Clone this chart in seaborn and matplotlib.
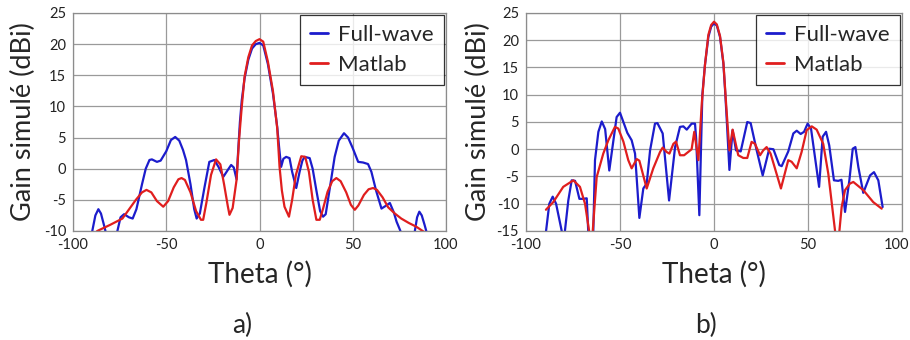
import pandas as pd
import matplotlib.pyplot as plt
import matplotlib.transforms as mtransforms
import seaborn as sns

# --- a) values
theta_a_fw = [-90, -88, -86.4, -85, -83, -82, -79, -76.2, -74.5, -72.6, -70, -68, -66, -63, -61, -59,
              -57.7, -55, -53, -50, -47.5, -45.2, -43, -41, -39.4, -37, -35, -33.7, -32, -29.5, -26.9,
              -24.2, -22, -19.4, -17, -15.2, -13.8, -12.3, -11.5, -10.5, -9.5, -8, -6, -4, -2, 0, 2,
              4.5, 7.2, 9.5, 10.5, 11.6, 12.8, 14.3, 16.1, 17.5, 19.7, 21.5, 23, 24.2, 26.9, 28.5,
              30.5, 32.5, 34.1, 35.5, 37.5, 40.3, 42.5, 45.3, 47.5, 50, 52.9, 55.5, 58.2, 60, 62.5,
              65.4, 67.5, 69.9, 72, 73.5, 75.3, 78, 81, 83.3, 84.5, 85.7, 87, 88.5, 89.6, 90.5]
gain_a_fw = [-10.5, -7.5, -6.5, -7.2, -9.5, -10.8, -13, -10, -7.8, -7.3, -7.8, -8.0, -6.5, -2.5, 0, 1.4,
             1.5, 1.1, 1.3, 2.8, 4.6, 5.1, 4.5, 3.0, 1.4, -2.5, -6.5, -8.0, -7.2, -3, 1.1,
             1.4, 0.3, -1.3, -0.2, 0.6, 0.2, -1.7, 2.5, 7.5, 11, 14.5, 17.5, 19.3, 20.0, 20.2, 19.8,
             16.8, 12.1, 6.7, 3.5, 0.3, 1.6, 1.9, 1.7, -0.5, -3.1, -0.5, 1.3, 1.9, 1.7, 0,
             -3.5, -6.8, -7.7, -7.3, -3.5, 1.9, 4.5, 5.7, 5.0, 3.3, 1.1, 1.0, 0.75, -0.5, -3.5,
             -6.4, -6.0, -5.5, -7.0, -8.5, -9.8, -12, -12.5, -10, -7.8, -6.9, -7.5, -9.0, -10.2, -11]

theta_a_ml = [-90, -87, -80, -73.5, -66.3, -63, -60.6, -58, -55, -51.6, -49, -46, -43.5, -41.8, -40, -37,
              -34, -31.4, -30.2, -28.5, -26, -23.3, -21, -19, -17, -16.1, -14.4, -12.3, -11, -9.5,
              -8, -6, -4, -2, 0, 2, 4.5, 7.2, 9.5, 10.75, 12, 13.4, 15.8, 17.5, 19.5, 22.4, 24.5,
              26.5, 28.5, 30.5, 32.3, 34, 36.5, 39, 41.2, 43.5, 46.5, 49, 51.1, 53, 56, 58.5, 60.9,
              63, 66, 69, 72.6, 76, 80, 84, 87, 90]
gain_a_ml = [-11.2, -10, -9, -8, -5, -3.8, -3.4, -3.8, -5.2, -6.1, -5.2, -3, -1.7, -1.5, -1.8, -3.8,
             -6.8, -8.2, -8.2, -5.5, -1, 1.5, 0.7, -2.5, -6, -7.4, -6.3, -1.8, 4.5, 10,
             14.8, 17.9, 19.8, 20.5, 20.8, 20.4, 17.2, 12.5, 6.5, 0.3, -3.5, -6.1, -7.7, -5, -1, 2.0, 1.9,
             -0.5, -5, -8.2, -8.2, -6.5, -3.7, -2, -1.5, -2.0, -3.8, -5.8, -6.6, -5.9, -4.2, -3.3, -3.1,
             -3.4, -4.6, -6.2, -7.2, -8, -8.7, -9.3, -9.9, -10.5]

# --- b)
theta_b_fw = [-90, -89.4, -87.6, -85.8, -84, -81, -80, -79.3, -77.5, -75.7, -73.9, -71.6, -69.5, -67.7,
              -66.9, -65.5, -64.2, -63.3, -61.5, -59.7, -57.9, -55.7, -51.8, -50, -46.1, -43.8, -42,
              -39.7, -37.6, -35.8, -34, -31.4, -30.1, -27.3, -23.9, -20.7, -18.1, -16.3, -14.5, -11.9,
              -10.1, -9.5, -7.8, -6.2, -4.8, -3, -1.5, 0, 1.5, 3.2, 5, 5.9, 6.7, 8.2, 9.9, 11.7, 14.2,
              17.7, 19.5, 22.7, 25.9, 29.4, 31.6, 34.7, 36, 39.5, 42.2, 44, 46.1, 47.9, 49.8, 51.6,
              55.9, 57.8, 59.6, 61.3, 63.8, 66.1, 67.8, 69.7, 72, 73.8, 75.2, 76.8, 79.4, 83, 85.1,
              87.4, 89.7]
gain_b_fw = [-17, -15.2, -10, -8.7, -10, -15, -17, -15, -9.4, -5.7, -5.8, -9.1, -9.1, -9.0,
             -15, -18, -15, -2.0, 3.2, 5.1, 3.7, -3.9, 5.9, 6.7, 3.0, 1.65, -0.8,
             -12.6, -7.2, -6.3, -0.2, 4.7, 4.8, 2.9, -9.4, 0.4, 4.1, 4.2, 3.6, 4.7,
             4.7, 2, -12.1, 10, 15.5, 20.6, 22.5, 23.1, 22.7, 20.6, 15.7, 10.8, 5.9, -3.8, 3.5, -0.2, -0.4,
             5.0, 4.8, -0.2, -4.8, 0.1, 0, -2.9, -3.1, -0.4, 2.9, 3.4, 2.8, 3.2, 4.7, 3.8,
             -6.9, 2.3, 3.2, 0.7, -5.7, -5.8, -5.6, -11.5, -5.7, 0.1, 0.4, -3.3, -8.0, -4.8, -4.2,
             -5.7, -10.6]

theta_b_ml = [-89.4, -85.5, -80.2, -74.8, -71.3, -68.6, -66, -65, -64.5, -62.4, -58.9, -56.2, -52.7,
              -50.9, -48.2, -45.6, -43.8, -41.1, -39.7, -35.8, -32.3, -28.7, -27.3, -25.2, -23.7,
              -21.6, -20.2, -18.1, -15.9, -11.9, -10.5, -8.3, -6.5, -4.8, -3, -1.5, 0, 1.5, 3.2, 5,
              6.5, 8.2, 9.9, 12.9, 15.6, 17.7, 20, 21.8, 24.5, 26.2, 28, 30.1, 35.6, 39.5, 41.3, 44,
              46.6, 49.3, 52, 54.6, 58.1, 60.8, 63.5, 64.4, 65.5, 66.7, 67.9, 69.7, 72.3, 74.1, 79.4,
              84.7, 89.2]
gain_b_ml = [-11.1, -9.7, -6.9, -5.7, -6.9, -10, -16, -18, -15, -5.1, -0.8, 1.65, 4.1,
             3.8, 1.4, -2.0, -3.5, -1.8, -2.1, -7.2, -3.5, -0.5, 0.3, -0.5, -0.8,
             1.0, 1.4, -1.1, -1.1, 0, 3.2, -2.0, 8.4, 15.5, 21, 22.8, 23.4, 22.9, 20.8, 15.9,
             8, -0.2, 3.6, -1.1, -1.6, -1.6, 1.35, 1.0, -1.1, -0.2, 0.4, -0.8, -7.2, -2.0, -2.3, -3.5,
             -0.5, 3.5, 4.2, 3.6, 1.0, -4.5, -12.4, -15, -18, -15, -10.6, -7.5, -6.3, -6.0, -7.5,
             -9.7, -10.9]

series_names = ["Full-wave", "Matlab"]
series_colors = ["#1c1ccc", "#e01e1e"]


def long_table(th_fw, g_fw, th_ml, g_ml):
    fw = pd.DataFrame({"Theta": th_fw, "Gain": g_fw, "serie": series_names[0]})
    ml = pd.DataFrame({"Theta": th_ml, "Gain": g_ml, "serie": series_names[1]})
    return pd.concat([fw, ml], ignore_index=True)


df_a = long_table(theta_a_fw, gain_a_fw, theta_a_ml, gain_a_ml)
df_b = long_table(theta_b_fw, gain_b_fw, theta_b_ml, gain_b_ml)

sns.set_style("whitegrid")
plt.rcParams["font.family"] = ["Lato", "DejaVu Sans"]
plt.rcParams["axes.unicode_minus"] = False

fig = plt.figure(figsize=(9.1, 3.4), dpi=100)
ax_a = fig.add_axes([73 / 910, 109 / 340, 373 / 910, 218 / 340])
ax_b = fig.add_axes([526 / 910, 109 / 340, 376 / 910, 218 / 340])

panels = [(ax_a, df_a, -10, [-10, -5, 0, 5, 10, 15, 20, 25], -0.10),
          (ax_b, df_b, -15, [-15, -10, -5, 0, 5, 10, 15, 20, 25], -0.092)]

for ax, df, ymin, yt, ylab_x in panels:
    sns.lineplot(data=df, x="Theta", y="Gain", hue="serie", palette=series_colors,
                 estimator=None, sort=False, linewidth=1.6, ax=ax)
    ax.set_xlim(-100, 100)
    ax.set_ylim(ymin, 25)
    ax.set_xticks([-100, -50, 0, 50, 100])
    ax.set_yticks(yt)
    ax.grid(True, color="#9a9a9a", linewidth=0.9)
    for sp in ax.spines.values():
        sp.set_color("#8c8c8c")
        sp.set_linewidth(0.9)
    ax.tick_params(axis="both", length=0, labelsize=10.5, colors="#222222")
    ax.tick_params(axis="x", pad=5)
    ax.tick_params(axis="y", pad=5)
    ax.set_xlabel("Theta (°)", fontsize=20)
    ax.set_ylabel("Gain simulé (dBi)", fontsize=19.5)
    ax.xaxis.set_label_coords(0.5, -0.135)
    ax.yaxis.set_label_coords(ylab_x, 0.5)
    leg = ax.legend(loc="upper right", fontsize=16, frameon=True, fancybox=False,
                    handlelength=0.8, handletextpad=0.45, borderpad=0.45,
                    labelspacing=0.45, borderaxespad=0.1)
    leg.get_frame().set_edgecolor("black")
    leg.get_frame().set_linewidth(0.9)
    for ln in leg.get_lines():
        ln.set_linewidth(2.0)

# keep the last "100" of panel b inside the picture
last = ax_b.get_xticklabels()[-1]
last.set_ha("right")
last.set_transform(last.get_transform() + mtransforms.ScaledTranslation(0.07, 0, fig.dpi_scale_trans))

fig.text(242 / 910, 1 - 325 / 340, "a)", fontsize=19, ha="center", va="center")
fig.text(706 / 910, 1 - 325 / 340, "b)", fontsize=19, ha="center", va="center")

fig.savefig("out.png", dpi=100)
